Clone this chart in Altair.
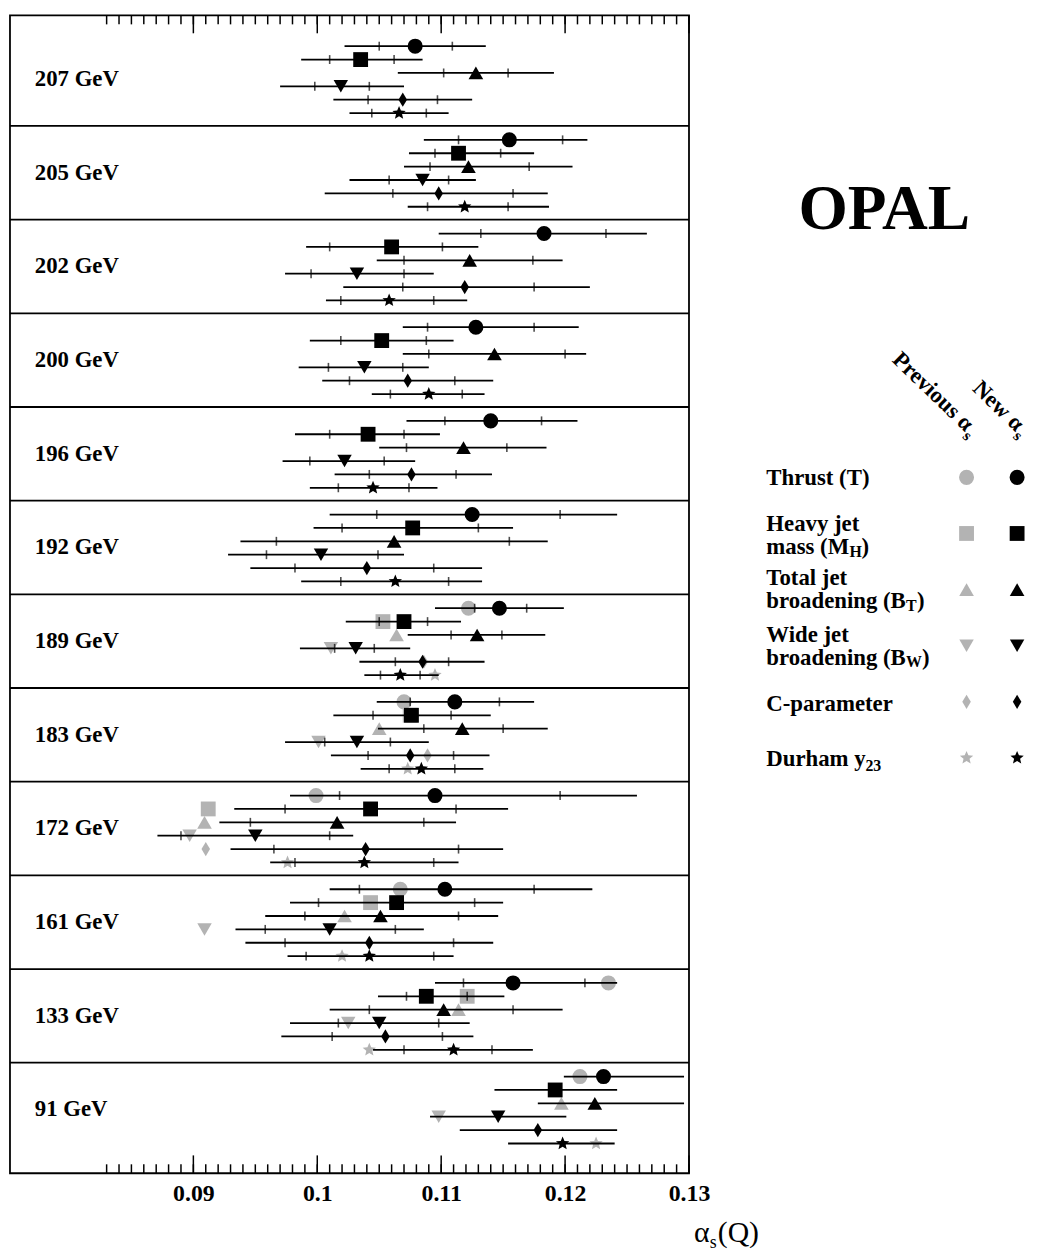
import altair as alt
import pandas as pd
import numpy as np

# ---------------- data ----------------
ENERGIES = ["91 GeV", "133 GeV", "161 GeV", "172 GeV", "183 GeV", "189 GeV",
            "192 GeV", "196 GeV", "200 GeV", "202 GeV", "205 GeV", "207 GeV"]
OBS = ["T", "MH", "BT", "BW", "C", "Y23"]

# order of every list below follows ENERGIES
T_NEW     = [0.1231, 0.1158, 0.1103, 0.1095, 0.1111, 0.1147, 0.1125, 0.1140, 0.1128, 0.1183, 0.1155, 0.1079]
T_TOT_LO  = [0.1199, 0.1095, 0.1010, 0.0978, 0.1048, 0.1095, 0.1010, 0.1072, 0.1069, 0.1098, 0.1086, 0.1022]
T_TOT_HI  = [0.1296, 0.1242, 0.1222, 0.1258, 0.1175, 0.1199, 0.1242, 0.1210, 0.1211, 0.1266, 0.1218, 0.1136]
T_STAT_LO = [None, 0.1118, 0.1034, 0.1018, 0.1075, 0.1127, 0.1048, 0.1103, 0.1089, 0.1132, 0.1114, 0.1050]
T_STAT_HI = [None, 0.1216, 0.1175, 0.1196, 0.1147, 0.1169, 0.1196, 0.1181, 0.1175, 0.1233, 0.1198, 0.1109]
T_PREV    = [0.1212, 0.1235, 0.1067, 0.0999, 0.1070, 0.1122, None, None, None, None, None, None]

MH_NEW     = [0.1192, 0.1088, 0.1064, 0.1043, 0.1076, 0.1070, 0.1077, 0.1041, 0.1052, 0.1060, 0.1114, 0.1035]
MH_TOT_LO  = [0.1143, 0.1049, 0.0978, 0.0933, 0.1013, 0.1023, 0.0997, 0.0982, 0.0994, 0.0991, 0.1074, 0.0987]
MH_TOT_HI  = [0.1242, 0.1151, 0.1150, 0.1154, 0.1140, 0.1116, 0.1158, 0.1099, 0.1110, 0.1130, 0.1175, 0.1085]
MH_STAT_LO = [None, 0.1072, 0.1001, 0.0974, 0.1045, 0.1050, 0.1020, 0.1010, 0.1019, 0.1010, 0.1095, 0.1010]
MH_STAT_HI = [None, 0.1121, 0.1127, 0.1112, 0.1108, 0.1089, 0.1130, 0.1070, 0.1088, 0.1101, 0.1148, 0.1062]
MH_PREV    = [None, 0.1121, 0.1043, 0.0912, 0.1075, 0.1053, None, None, None, None, None, None]

BT_NEW     = [0.1224, 0.1102, 0.1051, 0.1016, 0.1117, 0.1129, 0.1062, 0.1118, 0.1143, 0.1123, 0.1122, 0.1128]
BT_TOT_LO  = [0.1178, 0.1010, 0.0958, 0.0921, 0.1049, 0.1073, 0.0938, 0.1050, 0.1069, 0.1048, 0.1070, 0.1065]
BT_TOT_HI  = [0.1296, 0.1198, 0.1146, 0.1112, 0.1186, 0.1184, 0.1186, 0.1185, 0.1217, 0.1198, 0.1206, 0.1191]
BT_STAT_LO = [None, 0.1042, 0.0990, 0.0946, 0.1086, 0.1108, 0.0967, 0.1072, 0.1090, 0.1070, 0.1091, 0.1102]
BT_STAT_HI = [None, 0.1158, 0.1114, 0.1086, 0.1150, 0.1149, 0.1155, 0.1153, 0.1200, 0.1174, 0.1171, 0.1154]
BT_PREV    = [0.1197, 0.1114, 0.1022, 0.0909, 0.1050, 0.1064, None, None, None, None, None, None]

BW_NEW     = [0.1146, 0.1050, 0.1010, 0.0950, 0.1032, 0.1031, 0.1003, 0.1022, 0.1038, 0.1032, 0.1085, 0.1019]
BW_TOT_LO  = [0.1091, 0.0978, 0.0934, 0.0871, 0.0974, 0.0986, 0.0928, 0.0972, 0.0985, 0.0974, 0.1026, 0.0970]
BW_TOT_HI  = [0.1201, 0.1123, 0.1086, 0.1029, 0.1090, 0.1075, 0.1070, 0.1079, 0.1090, 0.1094, 0.1128, 0.1070]
BW_STAT_LO = [None, 0.1017, 0.0958, 0.0890, 0.1006, 0.1014, 0.0959, 0.0994, 0.1009, 0.0995, 0.1058, 0.0998]
BW_STAT_HI = [None, 0.1098, 0.1063, 0.1010, 0.1059, 0.1046, 0.1049, 0.1054, 0.1069, 0.1070, 0.1106, 0.1042]
BW_PREV    = [0.1098, 0.1025, 0.0909, 0.0897, 0.1001, 0.1011, None, None, None, None, None, None]

C_NEW     = [0.1178, 0.1055, 0.1042, 0.1039, 0.1075, 0.1085, 0.1040, 0.1076, 0.1073, 0.1119, 0.1098, 0.1069]
C_TOT_LO  = [0.1115, 0.0971, 0.0942, 0.0930, 0.1011, 0.1034, 0.0946, 0.1014, 0.1004, 0.1021, 0.1006, 0.1013]
C_TOT_HI  = [0.1242, 0.1126, 0.1142, 0.1150, 0.1139, 0.1135, 0.1133, 0.1141, 0.1142, 0.1220, 0.1186, 0.1125]
C_STAT_LO = [None, 0.1012, 0.0974, 0.0965, 0.1041, 0.1063, 0.0982, 0.1042, 0.1026, 0.1069, 0.1061, 0.1041]
C_STAT_HI = [None, 0.1101, 0.1110, 0.1114, 0.1110, 0.1106, 0.1094, 0.1112, 0.1111, 0.1175, 0.1158, 0.1097]
C_PREV    = [None, None, None, 0.0910, 0.1089, 0.1086, None, None, None, None, None, None]

Y23_NEW     = [0.1198, 0.1110, 0.1042, 0.1038, 0.1084, 0.1067, 0.1063, 0.1045, 0.1090, 0.1058, 0.1119, 0.1066]
Y23_TOT_LO  = [0.1154, 0.1045, 0.0976, 0.0962, 0.1035, 0.1038, 0.0987, 0.0994, 0.1044, 0.1007, 0.1073, 0.1026]
Y23_TOT_HI  = [0.1240, 0.1174, 0.1110, 0.1114, 0.1134, 0.1098, 0.1133, 0.1097, 0.1135, 0.1121, 0.1187, 0.1106]
Y23_STAT_LO = [None, 0.1070, 0.0991, 0.0982, 0.1058, 0.1051, 0.1019, 0.1017, 0.1059, 0.1019, 0.1089, 0.1044]
Y23_STAT_HI = [None, 0.1141, 0.1094, 0.1094, 0.1111, 0.1083, 0.1106, 0.1074, 0.1117, 0.1094, 0.1154, 0.1088]
Y23_PREV    = [0.1225, 0.1042, 0.1020, 0.0976, 0.1073, 0.1095, None, None, None, None, None, None]

MAJOR_TICKS = [0.09, 0.10, 0.11, 0.12, 0.13]
MINOR_TICKS = [round(0.083 + 0.001 * k, 3) for k in range(48)]

SERIES = {
    "T": (T_NEW, T_TOT_LO, T_TOT_HI, T_STAT_LO, T_STAT_HI, T_PREV),
    "MH": (MH_NEW, MH_TOT_LO, MH_TOT_HI, MH_STAT_LO, MH_STAT_HI, MH_PREV),
    "BT": (BT_NEW, BT_TOT_LO, BT_TOT_HI, BT_STAT_LO, BT_STAT_HI, BT_PREV),
    "BW": (BW_NEW, BW_TOT_LO, BW_TOT_HI, BW_STAT_LO, BW_STAT_HI, BW_PREV),
    "C": (C_NEW, C_TOT_LO, C_TOT_HI, C_STAT_LO, C_STAT_HI, C_PREV),
    "Y23": (Y23_NEW, Y23_TOT_LO, Y23_TOT_HI, Y23_STAT_LO, Y23_STAT_HI, Y23_PREV),
}

# ---------------- styling / layout ----------------
FONT = "Liberation Serif"
GREY = "#b3b3b3"
W, H = 685, 1168
PANEL = 94.5
ROW_OFFSET = [14, 27.5, 41, 54.5, 68, 81.5]  # px from panel top

DIAMOND = "M0,-1L0.6,0L0,1L-0.6,0Z"
_pts = []
for k in range(10):
    a = np.deg2rad(-90 + 36 * k)
    r = 1.0 if k % 2 == 0 else 0.45
    _pts.append(f"{r*np.cos(a):.4f},{r*np.sin(a):.4f}")
STAR = "M" + "L".join(_pts) + "Z"

SHAPES = ["circle", "square", "triangle-up", "triangle-down", DIAMOND, STAR]
SIZES = [230, 200, 280, 260, 340, 460]
LEG_SIZES = [190, 170, 230, 200, 280, 360]

shape_enc = alt.Shape("obs:N", scale=alt.Scale(domain=OBS, range=SHAPES), legend=None)
size_enc = alt.Size("obs:N", scale=alt.Scale(domain=OBS, range=SIZES), legend=None)

rows = []
for j, o in enumerate(OBS):
    new, tlo, thi, slo, shi, prev = SERIES[o]
    for i, e in enumerate(ENERGIES):
        rows.append(dict(energy=e, obs=o, y=i + 1 - ROW_OFFSET[j] / PANEL,
                         val=new[i], tot_lo=tlo[i], tot_hi=thi[i],
                         stat_lo=slo[i], stat_hi=shi[i], prev=prev[i]))
df = pd.DataFrame(rows)
df_prev = df[df["prev"].notna()][["obs", "y", "prev"]]

xs = alt.Scale(domain=[0.0752, 0.13], nice=False, zero=False)
ys = alt.Scale(domain=[-0.18, 12.18], nice=False, zero=False)
X_AXIS = alt.Axis(values=MAJOR_TICKS, format="~g", ticks=False, domain=False,
                  grid=False, title=None, labelFont=FONT, labelFontWeight="bold",
                  labelFontSize=24, labelColor="black", labelPadding=9,
                  labelFlush=False)


def xq(field):
    return alt.X(field, scale=xs, axis=X_AXIS)


def yq(field):
    return alt.Y(field, scale=ys, axis=None)


base = alt.Chart(df)

bars = base.mark_rule(color="black", strokeWidth=1.8).encode(
    x=xq("tot_lo:Q"), x2="tot_hi:Q", y=yq("y:Q"))

stat = base.transform_fold(["stat_lo", "stat_hi"], as_=["side", "sv"]).transform_filter(
    "isValid(datum.sv)"
).mark_tick(orient="vertical", color="black", size=9, thickness=1.6).encode(
    x=xq("sv:Q"), y=yq("y:Q"))

prev_pts = alt.Chart(df_prev).mark_point(filled=True, opacity=1, color=GREY).encode(
    x=xq("prev:Q"), y=yq("y:Q"), shape=shape_enc, size=size_enc)

new_pts = base.mark_point(filled=True, opacity=1, color="black").encode(
    x=xq("val:Q"), y=yq("y:Q"), shape=shape_enc, size=size_enc)

sep_df = pd.DataFrame({"b": list(range(1, 12))})
seps = alt.Chart(sep_df).mark_rule(color="black", strokeWidth=1.8).encode(y=yq("b:Q"))

lab_df = pd.DataFrame({"energy": ENERGIES, "yc": [i + 0.5 for i in range(len(ENERGIES))]})
e_labels = alt.Chart(lab_df).mark_text(
    align="left", baseline="middle", font=FONT, fontWeight="bold", fontSize=23, color="black"
).encode(text="energy:N", x=alt.value(25), y=yq("yc:Q"))

maj_df = pd.DataFrame({"t": MAJOR_TICKS})
min_df = pd.DataFrame({"t": MINOR_TICKS})
tick_layers = []
for d, ln in ((maj_df, 18), (min_df, 9)):
    tick_layers.append(alt.Chart(d).mark_rule(color="black", strokeWidth=1.5).encode(
        x=xq("t:Q"), y=alt.value(H), y2=alt.value(H - ln)))
    tick_layers.append(alt.Chart(d).mark_rule(color="black", strokeWidth=1.5).encode(
        x=xq("t:Q"), y=alt.value(0), y2=alt.value(ln)))

one = pd.DataFrame({"a": [0]})
title_parts = [
    alt.Chart(one).mark_text(text="α", align="left", baseline="middle", font=FONT,
                             fontSize=30, color="black").encode(x=alt.value(690), y=alt.value(1228)),
    alt.Chart(one).mark_text(text="s", align="left", baseline="middle", font=FONT,
                             fontSize=18, color="black").encode(x=alt.value(706), y=alt.value(1238)),
    alt.Chart(one).mark_text(text="(Q)", align="left", baseline="middle", font=FONT,
                             fontSize=30, color="black").encode(x=alt.value(714), y=alt.value(1228)),
]

left = alt.layer(seps, *tick_layers, prev_pts, bars, stat, new_pts, e_labels, *title_parts).properties(
    width=W, height=H, view=alt.ViewBackground(stroke="black", strokeWidth=1.8)
)

# ---------------- legend panel ----------------
COLS = ["Previous", "New"]
lx = alt.Scale(domain=COLS, range=[273, 324], padding=0)
ly = alt.Scale(domain=OBS, range=[466, 749], padding=0)

sym_df = pd.DataFrame([{"obs": o, "col": c} for o in OBS for c in COLS])
leg_syms = alt.Chart(sym_df).mark_point(filled=True, opacity=1).encode(
    x=alt.X("col:N", scale=lx, axis=None),
    y=alt.Y("obs:N", scale=ly, axis=None),
    color=alt.Color("col:N", scale=alt.Scale(domain=COLS, range=[GREY, "black"]), legend=None),
    shape=shape_enc,
    size=alt.Size("obs:N", scale=alt.Scale(domain=OBS, range=LEG_SIZES), legend=None),
)

hdr_df = pd.DataFrame({"col": COLS, "txt": ["Previous α", "New α"]})
hdr = alt.Chart(hdr_df).mark_text(angle=44, align="right", baseline="alphabetic", font=FONT,
                                  fontWeight="bold", fontSize=23, color="black", dx=-2).encode(
    x=alt.X("col:N", scale=lx, axis=None), y=alt.value(422), text="txt:N")
hdr_s = alt.Chart(hdr_df).mark_text(text="s", angle=44, align="left", baseline="alphabetic",
                                    font=FONT, fontWeight="bold", fontSize=16, color="black",
                                    dx=-1, dy=6).encode(
    x=alt.X("col:N", scale=lx, axis=None), y=alt.value(422))

LABEL_PARTS = [
    ("T", "Thrust (T)", 0, 1, 23),
    ("MH", "Heavy jet", 0, -9, 23),
    ("MH", "mass (M", 0, 14, 23),
    ("MH", "H", 84, 19, 16),
    ("MH", ")", 96, 14, 23),
    ("BT", "Total jet", 0, -12, 23),
    ("BT", "broadening (B", 0, 12, 23),
    ("BT", "T", 141, 17, 16),
    ("BT", ")", 152, 12, 23),
    ("BW", "Wide jet", 0, -11, 23),
    ("BW", "broadening (B", 0, 12, 23),
    ("BW", "W", 141, 17, 16),
    ("BW", ")", 157, 12, 23),
    ("C", "C-parameter", 0, 2, 23),
    ("Y23", "Durham y", 0, 1, 23),
    ("Y23", "23", 100, 8, 16),
]
label_layers = []
for o, t, dx, dy, fs in LABEL_PARTS:
    label_layers.append(
        alt.Chart(pd.DataFrame({"obs": [o], "t": [t]})).mark_text(
            align="left", baseline="middle", font=FONT, fontWeight="bold", fontSize=fs,
            color="black", dx=dx, dy=dy).encode(
            x=alt.value(71), y=alt.Y("obs:N", scale=ly, axis=None), text="t:N"))

opal = alt.Chart(one).mark_text(text="OPAL", align="center", baseline="middle", font=FONT,
                                fontWeight="bold", fontSize=64, color="black").encode(
    x=alt.value(190), y=alt.value(196))

right = alt.layer(leg_syms, hdr, hdr_s, *label_layers, opal).properties(width=330, height=H)

chart = alt.hconcat(left, right, spacing=7, bounds="flush").properties(
    padding={"left": 0, "top": 0, "right": 0, "bottom": 0}
).configure_view(strokeWidth=0)

chart.save("out.html", embed_options={"renderer": "svg", "actions": False})
